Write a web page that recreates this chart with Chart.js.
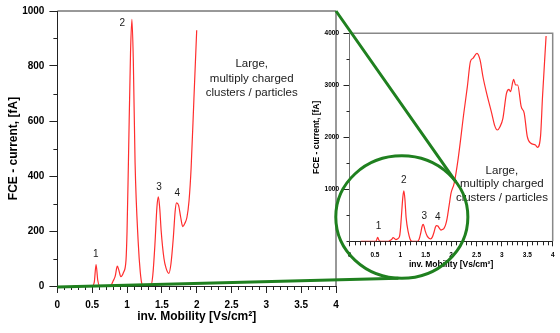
<!DOCTYPE html>
<html>
<head>
<meta charset="utf-8">
<script src="https://cdn.jsdelivr.net/npm/chart.js@4/dist/chart.umd.min.js"></script>
<style>
  body { margin: 0; background: #fff; }
  #wrap { position: relative; width: 560px; height: 333px; }
  #wrap canvas { position: absolute; left: 0; top: 0; }
</style>
</head>
<body>
<div id="wrap">
  <canvas id="grafico" width="560" height="333"></canvas>
  <canvas id="detalhe" width="560" height="333"></canvas>
</div>
<script>
// espectro de mobilidade, faixa baixa (aparece nos dois graficos)
const lowX = [0.22, 0.50, 0.53, 0.555, 0.58, 0.61, 0.76, 0.80, 0.83, 0.86, 0.885, 0.91, 0.95, 0.985,
  1.00, 1.02, 1.05, 1.07, 1.09, 1.115, 1.16, 1.19, 1.215, 1.23, 1.34, 1.37, 1.40, 1.43, 1.45,
  1.47, 1.49, 1.53, 1.56, 1.60, 1.63, 1.665, 1.69, 1.71, 1.74, 1.77, 1.80, 1.83, 1.86, 1.89,
  1.92, 1.96, 2.00];
const lowY = [0, 0, 15, 78, 20, 0, 0, 18, 36, 72, 55, 34, 50, 94,
  200, 454, 850, 970, 820, 450, 160, 50, 5, 0, 0, 40, 150, 290, 324,
  280, 200, 100, 65, 46, 80, 178, 270, 302, 293, 250, 216, 228, 250, 310,
  430, 680, 930];
// continuacao ate 4 Vs/cm2 (so no detalhe)
const highX = [2.06, 2.14, 2.25, 2.32, 2.38, 2.43, 2.51, 2.57, 2.63, 2.70, 2.80, 2.86, 2.91, 2.96,
  3.02, 3.09, 3.14, 3.17, 3.23, 3.27, 3.31, 3.38, 3.44, 3.50, 3.57, 3.66, 3.70, 3.76, 3.80, 3.87];
const highY = [1115, 1596, 2462, 2973, 3454, 3519, 3615, 3487, 3150, 2846, 2462, 2220, 2140, 2200,
  2365, 2846, 2923, 2877, 3115, 3006, 3006, 2588, 2462, 2012, 1885, 1852, 1808, 2012, 2783, 3948];

const xLabels = [0, 0.5, 1, 1.5, 2, 2.5, 3, 3.5, 4];
const mainYLabels = [0, 200, 400, 600, 800, 1000];
const insetYLabels = [1000, 2000, 3000, 4000];
const peakNames = ['1', '2', '3', '4'];
const bigText = 'Large,\nmultiply charged\nclusters / particles';

Chart.defaults.font.family = "'Liberation Sans', Arial, sans-serif";
Chart.defaults.color = '#000';

const pontos = (xs, ys) => xs.map((x, i) => ({ x: x, y: ys[i] }));

// tracos menores dos eixos
const minorTicks = {
  id: 'minorTicks',
  afterDraw(chart, args, opts) {
    const { ctx, chartArea } = chart;
    const sx = chart.scales.x, sy = chart.scales.y;
    ctx.save();
    ctx.strokeStyle = opts.color;
    ctx.lineWidth = 1;
    ctx.beginPath();
    sx.ticks.forEach(t => {
      if (t.label !== '') return;
      const p = Math.round(sx.getPixelForValue(t.value)) + 0.5;
      ctx.moveTo(p, chartArea.bottom);
      ctx.lineTo(p, chartArea.bottom + opts.xLen);
    });
    sy.ticks.forEach(t => {
      if (t.label !== '') return;
      const p = Math.round(sy.getPixelForValue(t.value)) + 0.5;
      ctx.moveTo(chartArea.left, p);
      ctx.lineTo(chartArea.left - opts.yLen, p);
    });
    ctx.stroke();
    ctx.restore();
  }
};

// moldura de cima e da direita
const moldura = {
  id: 'moldura',
  afterDraw(chart, args, opts) {
    const { ctx, chartArea: a } = chart;
    ctx.save();
    ctx.strokeStyle = opts.color;
    ctx.lineWidth = opts.width;
    ctx.beginPath();
    ctx.moveTo(a.left, a.top);
    ctx.lineTo(a.right, a.top);
    ctx.lineTo(a.right, a.bottom);
    ctx.stroke();
    ctx.restore();
  }
};

const textos = {
  id: 'textos',
  afterDatasetsDraw(chart, args, opts) {
    const { ctx } = chart;
    const sx = chart.scales.x, sy = chart.scales.y;
    ctx.save();
    ctx.fillStyle = '#1a1a1a';
    ctx.textAlign = 'center';
    ctx.textBaseline = 'middle';
    opts.items.forEach(it => {
      ctx.font = it.font;
      const px = sx.getPixelForValue(it.x), py = sy.getPixelForValue(it.y);
      it.text.split('\n').forEach((l, i) => ctx.fillText(l, px, py + i * it.lh));
    });
    ctx.restore();
  }
};

function eixoX(fontSize, tickLen, pad, titleSize, height) {
  return {
    type: 'linear', min: 0, max: 4,
    afterFit: s => { s.height = height; },
    border: { color: '#222', width: 1 },
    grid: {
      drawOnChartArea: false, tickLength: tickLen,
      tickColor: c => xLabels.includes(c.tick.value) ? '#222' : 'rgba(0,0,0,0)'
    },
    ticks: {
      stepSize: 0.1, autoSkip: false, maxRotation: 0, padding: pad,
      font: { size: fontSize, weight: 'bold' },
      callback: v => xLabels.includes(v) ? String(v) : ''
    },
    title: { display: true, text: 'inv. Mobility [Vs/cm²]', padding: 0, font: { size: titleSize, weight: 'bold' } }
  };
}

function eixoY(max, step, labels, fontSize, tickLen, pad, titleSize, width, borderColor) {
  return {
    type: 'linear', min: 0, max: max,
    afterFit: s => { s.width = width; },
    border: { color: borderColor, width: 1 },
    grid: {
      drawOnChartArea: false, tickLength: tickLen,
      tickColor: c => labels.includes(c.tick.value) ? '#222' : 'rgba(0,0,0,0)'
    },
    ticks: {
      stepSize: step, autoSkip: false, padding: pad,
      font: { size: fontSize, weight: 'bold' },
      callback: v => labels.includes(v) ? String(v) : ''
    },
    title: { display: true, text: 'FCE - current, [fA]', padding: 0, font: { size: titleSize, weight: 'bold' } }
  };
}

const serie = data => ({
  data: data,
  borderColor: 'rgb(255,45,45)',
  borderWidth: 1.2,
  pointRadius: 0,
  cubicInterpolationMode: 'monotone',
  fill: false
});

const mainPeaks = [[0.55, 115], [0.93, 956], [1.46, 360], [1.72, 336]];
const insetPeaks = [[0.57, 281], [1.07, 1165], [1.47, 490], [1.74, 471]];

const graficoPrincipal = new Chart(document.getElementById('grafico'), {
  type: 'line',
  data: { datasets: [serie(pontos(lowX, lowY))] },
  options: {
    responsive: false,
    animation: false,
    events: [],
    layout: { padding: { left: 6, right: 224, top: 8, bottom: 9 } },
    scales: {
      x: eixoX(10, 7, 6, 12, 38),
      y: eixoY(1000, 100, mainYLabels, 10, 8, 5, 12, 51.4, '#222')
    },
    plugins: {
      legend: { display: false },
      tooltip: { enabled: false },
      minorTicks: { color: '#222', xLen: 4, yLen: 4 },
      moldura: { color: '#333', width: 1 },
      textos: {
        items: mainPeaks.map((p, i) => ({ x: p[0], y: p[1], text: peakNames[i], font: '10px "Liberation Sans", Arial', lh: 0 }))
          .concat([{ x: 2.79, y: 807, text: bigText, font: '11.5px "Liberation Sans", Arial', lh: 14.3 }])
      }
    }
  },
  plugins: [minorTicks, moldura, textos]
});

// circulo e linhas verdes da ampliacao
const circulo = { x: 1.03, y: 467, rx: 1.30, ry: 1177 };
const zoomMarks = {
  id: 'zoomMarks',
  afterDraw(chart) {
    const { ctx } = chart;
    const ix = chart.scales.x, iy = chart.scales.y;
    const mx = graficoPrincipal.scales.x, my = graficoPrincipal.scales.y;
    const cx = ix.getPixelForValue(circulo.x), cy = iy.getPixelForValue(circulo.y);
    const rx = ix.getPixelForValue(circulo.x + circulo.rx) - cx;
    const ry = cy - iy.getPixelForValue(circulo.y + circulo.ry);
    const em = g => [cx + rx * Math.cos(g * Math.PI / 180), cy - ry * Math.sin(g * Math.PI / 180)];
    ctx.save();
    ctx.strokeStyle = '#1f801f';
    ctx.lineWidth = 3;
    ctx.beginPath();
    ctx.ellipse(cx, cy, rx, ry, 0, 0, 2 * Math.PI);
    ctx.stroke();
    const a = em(35), b = em(-93);
    ctx.beginPath();
    ctx.moveTo(mx.getPixelForValue(4), my.getPixelForValue(1000));
    ctx.lineTo(a[0], a[1]);
    ctx.moveTo(mx.getPixelForValue(0), my.getPixelForValue(0) + 1);
    ctx.lineTo(b[0], b[1]);
    ctx.stroke();
    ctx.restore();
  }
};

new Chart(document.getElementById('detalhe'), {
  type: 'line',
  data: { datasets: [serie(pontos(lowX.concat(highX), lowY.concat(highY)))] },
  options: {
    responsive: false,
    animation: false,
    events: [],
    layout: { padding: { left: 311.6, right: 2, top: 33.3, bottom: 63 } },
    scales: {
      x: eixoX(6.5, 5, 5.5, 8.5, 28.7),
      y: eixoY(4000, 500, insetYLabels, 6.5, 6, 4.5, 8.5, 37.9, '#777')
    },
    plugins: {
      legend: { display: false },
      tooltip: { enabled: false },
      minorTicks: { color: '#222', xLen: 4, yLen: 3 },
      moldura: { color: '#888', width: 1.5 },
      textos: {
        items: insetPeaks.map((p, i) => ({ x: p[0], y: p[1], text: peakNames[i], font: '10px "Liberation Sans", Arial', lh: 0 }))
          .concat([{ x: 3.0, y: 1352, text: bigText, font: '11.5px "Liberation Sans", Arial', lh: 13.2 }])
      }
    }
  },
  plugins: [minorTicks, moldura, textos, zoomMarks]
});
</script>
</body>
</html>
